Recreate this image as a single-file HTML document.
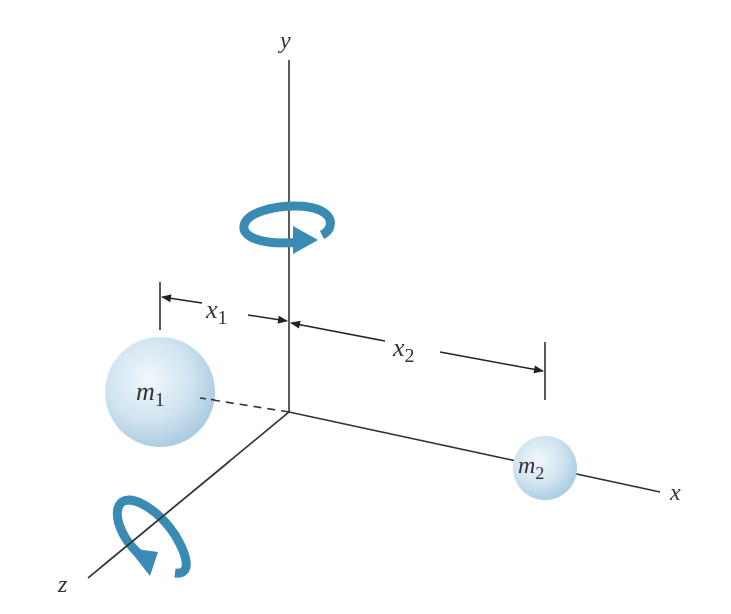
<!DOCTYPE html>
<html><head><meta charset="utf-8"><style>
html,body{margin:0;padding:0;background:#fff;width:731px;height:614px;overflow:hidden}
text{font-family:"Liberation Serif",serif;font-style:italic;fill:#333}
</style></head><body>
<svg width="731" height="614" viewBox="0 0 731 614" xmlns="http://www.w3.org/2000/svg">
<defs>
<radialGradient id="sph" cx="0.4" cy="0.38" r="0.65">
<stop offset="0" stop-color="#f2f8fc"/><stop offset="0.6" stop-color="#cfe3f0"/><stop offset="1" stop-color="#a9cbe0"/>
</radialGradient>
<marker id="ah" markerWidth="10" markerHeight="8" refX="9" refY="4" orient="auto" markerUnits="userSpaceOnUse"><path d="M0,0 L10,4 L0,8 z" fill="#222"/></marker>
</defs>
<g stroke="#333" stroke-width="1.6" fill="none">
<line x1="289" y1="60" x2="289" y2="412"/>
<line x1="289" y1="412" x2="660" y2="492"/>
<line x1="289" y1="412" x2="88" y2="578"/>
<line x1="289" y1="412" x2="200" y2="398" stroke-dasharray="8,6"/>
</g>
<text x="280" y="48" font-size="24">y</text>
<text x="670" y="500" font-size="24">x</text>
<text x="58" y="592" font-size="24">z</text>
<circle cx="160" cy="392" r="55" fill="url(#sph)"/>
<line x1="200" y1="398" x2="215" y2="400" stroke="#333" stroke-width="1.6" stroke-dasharray="6,5"/>
<text x="136" y="400" font-size="26">m<tspan font-style="normal" font-size="20" dy="6">1</tspan></text>
<circle cx="545" cy="468" r="32" fill="url(#sph)"/>
<text x="518" y="473" font-size="24">m<tspan font-style="normal" font-size="18" dy="6">2</tspan></text>
<g stroke="#222" stroke-width="1.5">
<line x1="160" y1="282" x2="160" y2="330"/>
<line x1="545" y1="342" x2="545" y2="400"/>
<line x1="202" y1="303" x2="162" y2="297" marker-end="url(#ah)"/>
<line x1="248" y1="315" x2="287" y2="321" marker-end="url(#ah)"/>
<line x1="385" y1="341" x2="291" y2="323" marker-end="url(#ah)"/>
<line x1="440" y1="352" x2="543" y2="371" marker-end="url(#ah)"/>
</g>
<text x="206" y="318" font-size="26">x<tspan font-style="normal" font-size="20" dy="6">1</tspan></text>
<text x="393" y="356" font-size="26">x<tspan font-style="normal" font-size="20" dy="6">2</tspan></text>
<g fill="none" stroke="#3a8bb4" stroke-width="9">
<path d="M300,242 C260,246 242,236 244,226 C246,212 275,206 295,206 C318,206 333,214 330,226 C329,230 326,233 322,235"/>
<path d="M293,226 L318,240 L293,254 z" fill="#3a8bb4" stroke="none"/>
</g>
<g fill="none" stroke="#3a8bb4" stroke-width="9">
<path d="M140,555 C118,535 112,510 122,502 C134,494 160,512 175,535 C190,560 190,575 175,573"/>
<path d="M128,548 L158,552 L150,576 z" fill="#3a8bb4" stroke="none"/>
</g>
<line x1="230" y1="461" x2="100" y2="568" stroke="#333" stroke-width="1.6"/>
</svg>
</body></html>
